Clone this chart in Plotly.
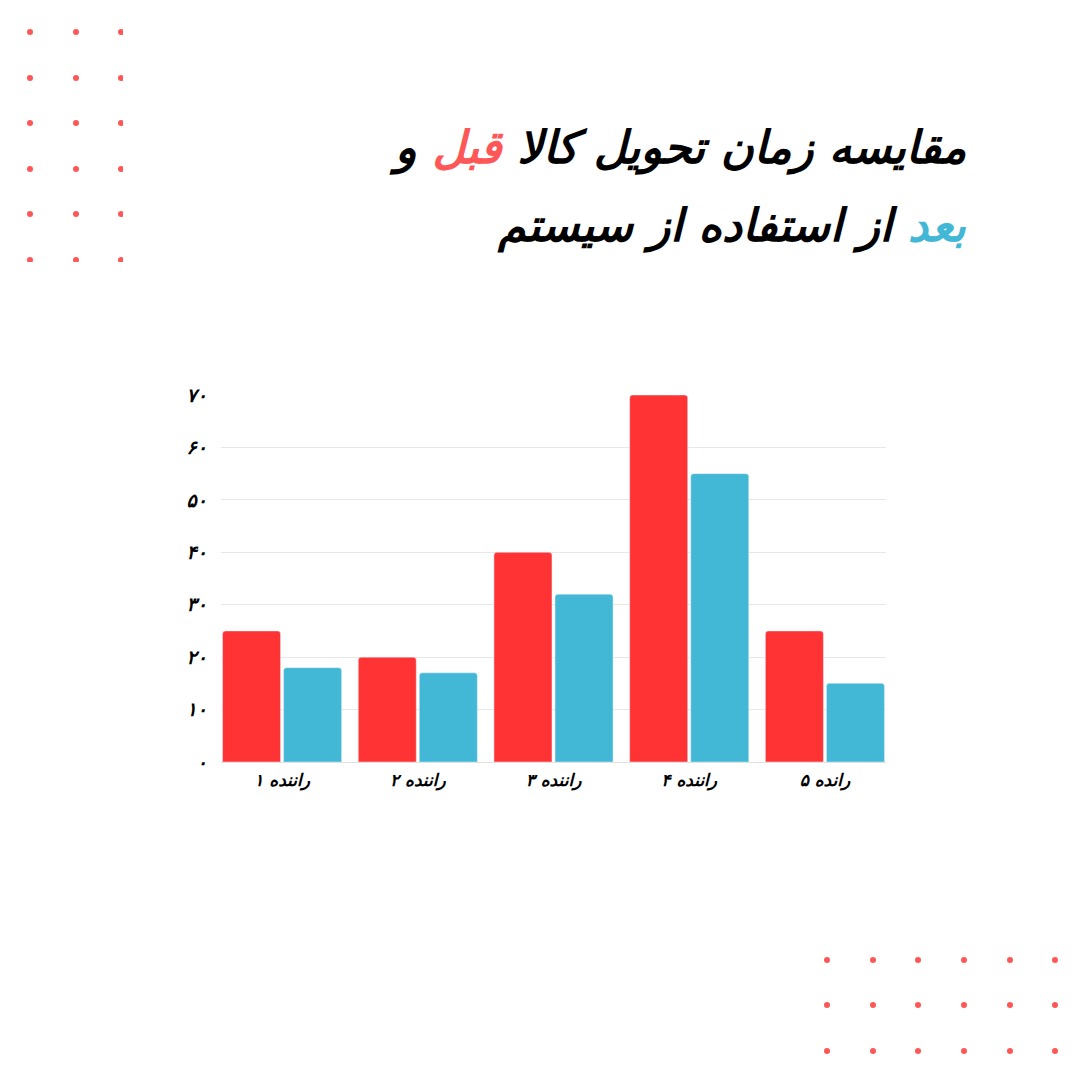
import plotly.graph_objects as go

drivers = ["راننده ۱", "راننده ۲", "راننده ۳", "راننده ۴", "رانده ۵"]
before = [25, 20, 40, 70, 25]
after = [18, 17, 32, 55, 15]
y_ticks = [0, 10, 20, 30, 40, 50, 60, 70]
y_labels = ["۰", "۱۰", "۲۰", "۳۰", "۴۰", "۵۰", "۶۰", "۷۰"]

# decorative dot grids (pixel positions on the 1080 page)
dots_tl_x = [30, 76, 121]
dots_tl_y = [32, 78, 123, 169, 214, 260]
dots_br_x = [827, 873, 918, 964, 1010, 1055]
dots_br_y = [960, 1005, 1051]

RED = "#FF3333"
BLUE = "#42B8D6"
DOT = "#FF5757"
FONT = "DejaVu Sans"
W = 1080

fig = go.Figure()

fig.add_trace(go.Bar(x=drivers, y=before, marker_color=RED, name="قبل"))
fig.add_trace(go.Bar(x=drivers, y=after, marker_color=BLUE, name="بعد"))

# dots: top-left grid is cut off by its own little axis box
tl_x = [x for y in dots_tl_y for x in dots_tl_x]
tl_y = [y for y in dots_tl_y for x in dots_tl_x]
fig.add_trace(go.Scatter(x=tl_x, y=tl_y, mode="markers", xaxis="x2", yaxis="y2",
                         marker=dict(color=DOT, size=6), cliponaxis=True,
                         hoverinfo="skip"))
br_x = [x for y in dots_br_y for x in dots_br_x]
br_y = [y for y in dots_br_y for x in dots_br_x]
fig.add_trace(go.Scatter(x=br_x, y=br_y, mode="markers", xaxis="x3", yaxis="y3",
                         marker=dict(color=DOT, size=6), hoverinfo="skip"))

x_font = dict(size=17, family=FONT, color="black", weight="bold", style="italic")
y_font = dict(size=19, family=FONT, color="black", weight="bold", style="italic")

fig.update_layout(
    width=W, height=W,
    margin=dict(l=0, r=0, t=0, b=0, autoexpand=False),
    paper_bgcolor="white", plot_bgcolor="rgba(0,0,0,0)",
    showlegend=False,
    barmode="group", bargap=0.1, bargroupgap=0.05, barcornerradius=3,
    font=dict(family=FONT, color="black"),
    xaxis=dict(domain=[221 / W, 886 / W], range=[-0.45, 4.45],
               showgrid=False, zeroline=False, showline=False, automargin=False,
               tickfont=x_font, ticks="", ticklabelstandoff=6),
    yaxis=dict(domain=[1 - 762 / W, 1 - 395 / W], range=[0, 70],
               tickvals=y_ticks, ticktext=y_labels, automargin=False,
               showgrid=True, gridcolor="#E8E8E8", gridwidth=1,
               zeroline=True, zerolinecolor="#E0E0E0", zerolinewidth=1,
               showline=False, ticks="", ticklabelstandoff=13,
               tickfont=y_font),
    xaxis2=dict(domain=[0, 123 / W], range=[0, 123], visible=False, anchor="y2",
                fixedrange=True, automargin=False),
    yaxis2=dict(domain=[1 - 262 / W, 1], range=[262, 0], visible=False, anchor="x2",
                fixedrange=True, automargin=False),
    xaxis3=dict(domain=[0, 1], range=[0, W], visible=False, anchor="y3",
                automargin=False),
    yaxis3=dict(domain=[0, 1], range=[W, 0], visible=False, anchor="x3",
                automargin=False),
)

title_font = dict(family=FONT, size=45, color="black", weight="bold", style="italic")
fig.add_annotation(
    xref="paper", yref="paper", x=968 / W, y=1 - 148 / W,
    xanchor="right", yanchor="middle", showarrow=False,
    text="مقایسه زمان تحویل کالا <span style='color:#FF5757'>قبل</span> و",
    font=title_font,
)
fig.add_annotation(
    xref="paper", yref="paper", x=968 / W, y=1 - 226 / W,
    xanchor="right", yanchor="middle", showarrow=False,
    text="<span style='color:#42B8D6'>بعد</span> از استفاده از سیستم",
    font=title_font,
)

# the page's default body margin would push the figure 8px off
fig.write_html("out.html", config={"displayModeBar": False},
               post_script="document.body.style.margin='0';")
